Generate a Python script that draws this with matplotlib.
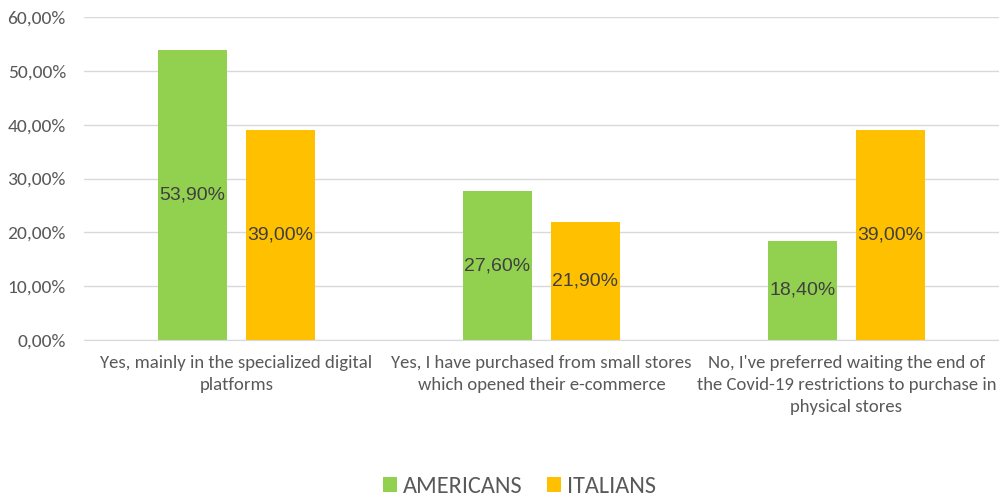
import numpy as np
import matplotlib.pyplot as plt
from matplotlib.ticker import FuncFormatter

# survey answers, share of respondents (%)
categories = ['Yes, mainly in the specialized digital\nplatforms',
              'Yes, I have purchased from small stores\nwhich opened their e-commerce',
              "No, I've preferred waiting the end of\nthe Covid-19 restrictions to purchase in\nphysical stores"]
americans = [53.90, 27.60, 18.40]
italians = [39.00, 21.90, 39.00]
series_names = ['AMERICANS', 'ITALIANS']

green = '#92D050'
orange = '#FFC000'
calibri = ['Carlito', 'DejaVu Sans']

fig = plt.figure(figsize=(9.99, 5.0), dpi=100)
ax = fig.add_axes([0.084, 0.32, 0.916, 0.646])

x = np.arange(len(categories))
w = 0.226
off = 0.144
b1 = ax.bar(x - off, americans, w, color=green, label=series_names[0], zorder=2)
b2 = ax.bar(x + off, italians, w, color=orange, label=series_names[1], zorder=2)

# value labels in the middle of each bar
for bars, vals in [(b1, americans), (b2, italians)]:
    for r, v in zip(bars, vals):
        ax.text(r.get_x() + r.get_width() / 2, v / 2, f'{v:.2f}%'.replace('.', ','),
                ha='center', va='center', fontsize=14, color='#404040',
                family='Liberation Sans')

ax.set_xlim(-0.5, 2.5)
ax.set_ylim(0, 60)
ax.set_yticks(np.arange(0, 61, 10))
ax.yaxis.set_major_formatter(FuncFormatter(lambda v, p: f'{v:.2f}%'.replace('.', ',')))
ax.grid(axis='y', color='#D9D9D9', linewidth=1, zorder=0)
for s in ['top', 'right', 'left']:
    ax.spines[s].set_visible(False)
ax.spines['bottom'].set_color('#D9D9D9')
ax.tick_params(axis='y', length=0, labelsize=14, labelcolor='#595959', pad=13)
ax.tick_params(axis='x', length=0, pad=11)
ax.set_xticks(x)
ax.set_xticklabels(categories, fontsize=13.5, color='#595959', family=calibri, linespacing=1.45)
for t in ax.get_yticklabels():
    t.set_family(calibri)

fig.legend(handles=[b1, b2], labels=series_names, loc='center', bbox_to_anchor=(0.52, 0.027),
           ncol=2, frameon=False, handlelength=0.58, handleheight=0.58, handletextpad=0.25,
           columnspacing=1.0, prop={'family': calibri, 'size': 17.5}, labelcolor='#595959')

fig.savefig('out.png', dpi=100)
